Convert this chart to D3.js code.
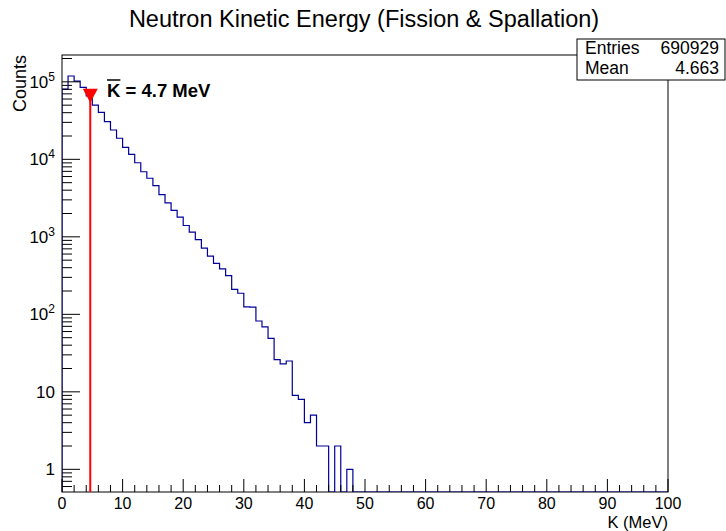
<!DOCTYPE html>
<html>
<head>
<meta charset="utf-8">
<script src="https://cdn.jsdelivr.net/npm/d3@7"></script>
<style>
  body { margin: 0; background: #fff; }
  svg { display: block; font-family: "Liberation Sans", Arial, sans-serif; }
</style>
</head>
<body>
<div id="chart"></div>
<script>
// histogram: 100 bins of 1 MeV from 0 to 100
const nBins = 100;
const xMin = 0, xMax = 100;
const counts = [
  80700, 118900, 102400, 84900, 66000, 50200, 40400, 30600, 23900, 18700,
  14300, 11600, 9040, 6920, 5700, 4570, 3510, 2750, 2200, 1800,
  1400, 1150, 920, 716, 565, 455, 387, 315, 210, 187,
  125, 124, 82, 69, 49, 26, 23, 25, 9, 8,
  4, 5, 2, 2, 0, 2, 0, 1
];
// the rest of the bins are empty
const allCounts = counts.concat(new Array(nBins - counts.length).fill(0));

const statLabels = ["Entries", "Mean"];
const statValues = ["690929", "4.663"];
const meanK = 4.663;
const meanLabel = "4.7 MeV";
const markerCount = 66000;

const yMin = 0.51, yMax = 2.22e5;
const xTickVals = [0, 10, 20, 30, 40, 50, 60, 70, 80, 90, 100];
const yTickVals = [1, 10, 100, 1000, 10000, 100000];

const W = 726, H = 531;
const margin = {left: 62, right: 58, top: 55, bottom: 39};

const svg = d3.select("#chart").append("svg")
    .attr("width", W)
    .attr("height", H);

const x = d3.scaleLinear().domain([xMin, xMax]).range([margin.left, W - margin.right]);
const y = d3.scaleLog().domain([yMin, yMax]).range([H - margin.bottom, margin.top]);

const x0 = x.range()[0], x1 = x.range()[1];
const yb = y.range()[0], yt = y.range()[1];
const bw = (xMax - xMin) / nBins;

svg.append("defs").append("clipPath").attr("id", "clip")
    .append("rect").attr("x", x0).attr("y", yt).attr("width", x1 - x0).attr("height", yb - yt);

// title
svg.append("text")
    .attr("x", 364).attr("y", 27)
    .attr("text-anchor", "middle")
    .attr("font-size", 23.5)
    .text("Neutron Kinetic Energy (Fission & Spallation)");

// frame
svg.append("rect")
    .attr("x", x0).attr("y", yt)
    .attr("width", x1 - x0).attr("height", yb - yt)
    .attr("fill", "none").attr("stroke", "#000").attr("stroke-width", 1);

// histogram step line
const yOf = c => c > 0 ? y(c) : yb;
let d = `M${x(xMin)},${yb}`;
allCounts.forEach((c, i) => {
    const xa = x(xMin + i * bw), xc = x(xMin + (i + 1) * bw);
    d += `L${xa},${yOf(c)}L${xc},${yOf(c)}`;
});
d += `L${x(xMax)},${yb}`;
svg.append("path")
    .attr("d", d)
    .attr("clip-path", "url(#clip)")
    .attr("fill", "none")
    .attr("stroke", "#000099")
    .attr("stroke-width", 1.2);

// x axis ticks
const xg = svg.append("g").attr("stroke", "#000").attr("stroke-width", 1);
d3.range(xMin, xMax + 0.001, 2).forEach(v => {
    const major = v % 10 === 0;
    xg.append("line")
        .attr("x1", x(v)).attr("x2", x(v))
        .attr("y1", yb).attr("y2", yb - (major ? 13 : 7));
});
svg.selectAll(".xl").data(xTickVals).join("text")
    .attr("class", "xl")
    .attr("x", v => x(v)).attr("y", yb + 16.5)
    .attr("text-anchor", "middle")
    .attr("font-size", 16)
    .text(v => v);

// y axis ticks (log)
const yg = svg.append("g").attr("stroke", "#000").attr("stroke-width", 1);
for (let e = -1; e <= 5; e++) {
    for (let m = 1; m <= 9; m++) {
        const v = m * Math.pow(10, e);
        if (v < yMin || v > yMax) continue;
        yg.append("line")
            .attr("x1", x0).attr("x2", x0 + (m === 1 ? 18 : 10))
            .attr("y1", y(v)).attr("y2", y(v));
    }
}
const yl = svg.selectAll(".yl").data(yTickVals).join("text")
    .attr("class", "yl")
    .attr("x", 55).attr("y", v => y(v) + 6)
    .attr("text-anchor", "end")
    .attr("font-size", 17);
yl.each(function(v) {
    const t = d3.select(this);
    const e = Math.round(Math.log10(v));
    if (e < 2) { t.text(v); return; }
    t.append("tspan").text("10");
    t.append("tspan").attr("font-size", 12).attr("dy", -7).text(e);
});

// axis titles
svg.append("text")
    .attr("x", x1).attr("y", 527.5)
    .attr("text-anchor", "end")
    .attr("font-size", 16.5)
    .text("K (MeV)");
svg.append("text")
    .attr("transform", `translate(26,${yt}) rotate(-90)`)
    .attr("text-anchor", "end")
    .attr("font-size", 18)
    .text("Counts");

// mean marker
const mx = x(meanK), my = y(markerCount);
svg.append("line")
    .attr("x1", mx).attr("x2", mx)
    .attr("y1", yb).attr("y2", my)
    .attr("stroke", "#ff0000").attr("stroke-width", 2);
svg.append("path")
    .attr("d", `M${mx - 7.5},${my - 7}L${mx + 7.5},${my - 7}L${mx},${my + 7}Z`)
    .attr("fill", "#ff0000");

const lab = svg.append("text")
    .attr("x", 107).attr("y", 97)
    .attr("font-size", 18.5)
    .attr("font-weight", "bold");
const kSpan = lab.append("tspan").text("K");
lab.append("tspan").text(" = " + meanLabel);
const kw = kSpan.node().getComputedTextLength();
svg.append("line")
    .attr("x1", 107).attr("x2", 107 + kw)
    .attr("y1", 80).attr("y2", 80)
    .attr("stroke", "#000").attr("stroke-width", 1.5);

// stats box
const bx = 577, by = 39, bwid = 148, bh = 41;
svg.append("rect")
    .attr("x", bx).attr("y", by).attr("width", bwid).attr("height", bh)
    .attr("fill", "#fff").attr("stroke", "#000").attr("stroke-width", 1);
statLabels.forEach((s, i) => {
    svg.append("text")
        .attr("x", bx + 8).attr("y", by + 15 + i * 20)
        .attr("font-size", 17.5).text(s);
    svg.append("text")
        .attr("x", bx + bwid - 6).attr("y", by + 15 + i * 20)
        .attr("text-anchor", "end")
        .attr("font-size", 17.5).text(statValues[i]);
});
</script>
</body>
</html>
